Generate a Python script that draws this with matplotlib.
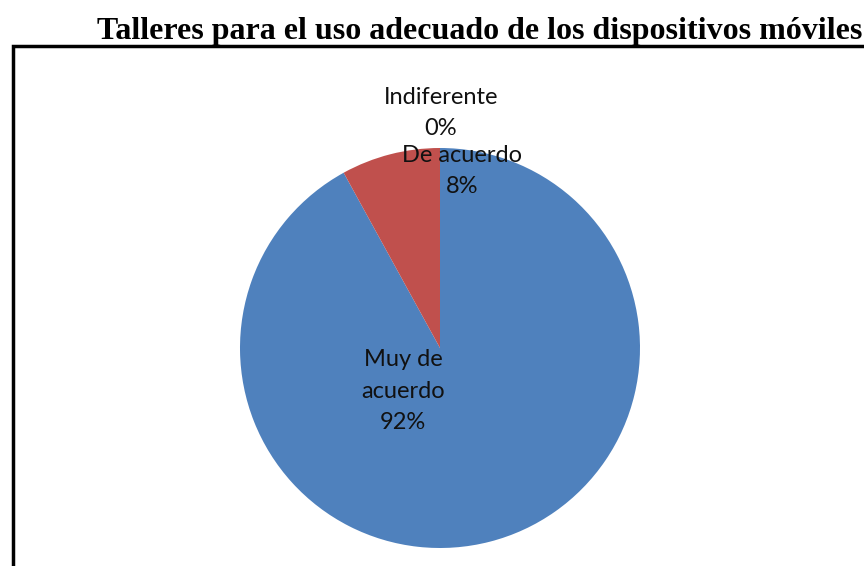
import matplotlib
matplotlib.use("Agg")
import matplotlib.pyplot as plt
from matplotlib.patches import Rectangle

categories = ["Muy de\nacuerdo", "De acuerdo", "Indiferente"]
values = [92, 8, 0]
colors = ["#4F81BD", "#C0504D", "#9BBB59"]
title = "Talleres para el uso adecuado de los dispositivos móviles"

W, H = 864, 566
fig = plt.figure(figsize=(W / 100, H / 100), dpi=100)
ax = fig.add_axes([0, 0, 1, 1])
cx, cy, r = 440, H - 348, 200

wedges, _ = ax.pie(values, colors=colors, startangle=90, counterclock=False,
                   radius=1, center=(0, 0), frame=True,
                   wedgeprops=dict(linewidth=0))
ax.set_xlim(-cx / r, (W - cx) / r)
ax.set_ylim(-cy / r, (H - cy) / r)
ax.set_aspect("equal")
ax.axis("off")

label_pos = [(-0.185, -0.215), (0.11, 0.885), (0.005, 1.175)]
for cat, v, (x, y) in zip(categories, values, label_pos):
    ax.text(x, y, f"{cat}\n{v}%", ha="center", va="center",
            fontsize=17, family="Lato", color="#111111",
            linespacing=1.62)

fig.text(862 / W, 1 - 39 / H, title, ha="right", va="baseline",
         fontsize=23, fontweight="bold", family="Liberation Serif")

fig.patches.append(Rectangle((13 / W, -0.1), 1.2, (H - 46) / H + 0.1,
                             transform=fig.transFigure, fill=False,
                             edgecolor="black", linewidth=2.5))

fig.savefig("out.png", dpi=100)
